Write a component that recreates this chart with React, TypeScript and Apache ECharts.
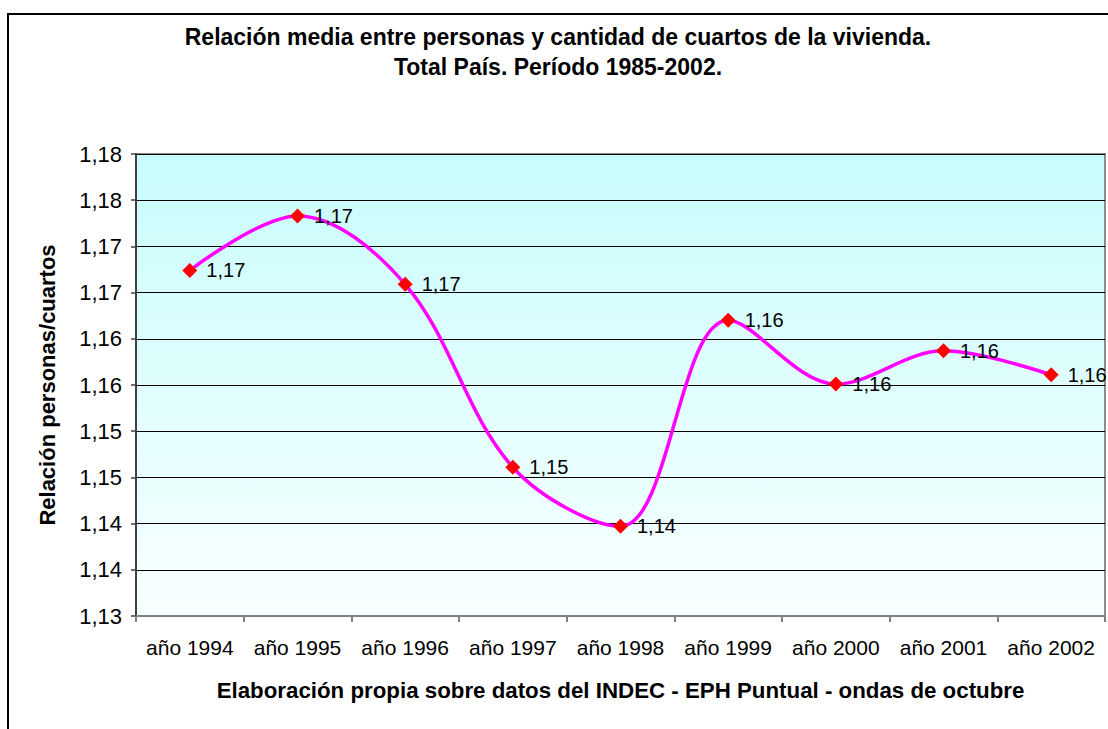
import React, { useEffect, useRef } from "react";
import * as echarts from "echarts";

const categories = ["año 1994", "año 1995", "año 1996", "año 1997", "año 1998", "año 1999", "año 2000", "año 2001", "año 2002"];
const ratios = [1.1674, 1.1733, 1.1659, 1.1461, 1.1397, 1.162, 1.1551, 1.1587, 1.1561];
const yMin = 1.13;
const yMax = 1.18;
const yStep = 0.005;

const titleText = "Relación media entre personas y cantidad de cuartos de la vivienda.\nTotal País. Período 1985-2002.";
const xName = "Elaboración propia sobre datos del INDEC - EPH Puntual - ondas de octubre";
const yName = "Relación personas/cuartos";

const fmt2 = (v: number) => {
  const r = Math.round(Math.round(v * 10000) / 100);
  return (r / 100).toFixed(2).replace(".", ",");
};

const FONT = "'Liberation Sans', Arial, sans-serif";

export default function App() {
  const ref = useRef<HTMLDivElement>(null);
  useEffect(() => {
    if (!ref.current) return;
    const chart = echarts.init(ref.current, null, { renderer: "svg" });
    chart.setOption({
      animation: false,
      backgroundColor: "#ffffff",
      textStyle: { fontFamily: FONT },
      title: {
        text: titleText,
        left: 558,
        top: 22,
        padding: 0,
        textAlign: "center",
        textStyle: { fontFamily: FONT, fontSize: 23, fontWeight: "bold", color: "#000", lineHeight: 30 },
      },
      graphic: [
        {
          type: "rect",
          shape: { x: 8, y: 14, width: 1300, height: 900 },
          style: { fill: "none", stroke: "#000", lineWidth: 2 },
          silent: true,
        },
      ],
      grid: {
        left: 136,
        top: 154,
        right: 3,
        bottom: 113,
        show: true,
        borderColor: "#8c8c8c",
        borderWidth: 2,
        backgroundColor: new echarts.graphic.LinearGradient(0, 0, 0, 1, [
          { offset: 0, color: "#c8fcfc" },
          { offset: 1, color: "#f8ffff" },
        ]),
      },
      xAxis: {
        type: "category",
        data: categories,
        boundaryGap: true,
        axisLine: { show: true, lineStyle: { color: "#808080", width: 2 } },
        axisTick: { show: true, interval: 0, length: 6, lineStyle: { color: "#808080", width: 2 } },
        axisLabel: { color: "#000", fontSize: 21, fontFamily: FONT, margin: 21, interval: 0 },
        name: xName,
        nameLocation: "middle",
        nameGap: 63,
        nameTextStyle: { color: "#000", fontSize: 22.3, fontWeight: "bold", fontFamily: FONT },
        splitLine: { show: false },
      },
      yAxis: {
        type: "value",
        min: yMin,
        max: yMax,
        interval: yStep,
        axisLine: { show: true, lineStyle: { color: "#404040", width: 2 } },
        axisTick: { show: true, length: 5, lineStyle: { color: "#404040", width: 1.5 } },
        axisLabel: { color: "#000", fontSize: 22, fontFamily: FONT, margin: 14, formatter: (v: number) => fmt2(v) },
        splitLine: { show: true, lineStyle: { color: "#000", width: 1 } },
        name: yName,
        nameLocation: "middle",
        nameRotate: 90,
        nameGap: 78,
        nameTextStyle: { color: "#000", fontSize: 22, fontWeight: "bold", fontFamily: FONT },
      },
      series: [
        {
          type: "line",
          data: ratios,
          smooth: 0.35,
          lineStyle: { color: "#ff00ff", width: 3.5 },
          itemStyle: { color: "#ff0000" },
          symbol: "diamond",
          symbolSize: 15,
          label: {
            show: true,
            position: "right",
            distance: 9,
            color: "#000",
            fontSize: 20,
            fontFamily: FONT,
            formatter: (p: any) => fmt2(p.value),
          },
        },
      ],
    });
    return () => chart.dispose();
  }, []);
  return <div ref={ref} style={{ position: "absolute", left: 0, top: 0, width: 1108, height: 729 }} />;
}
